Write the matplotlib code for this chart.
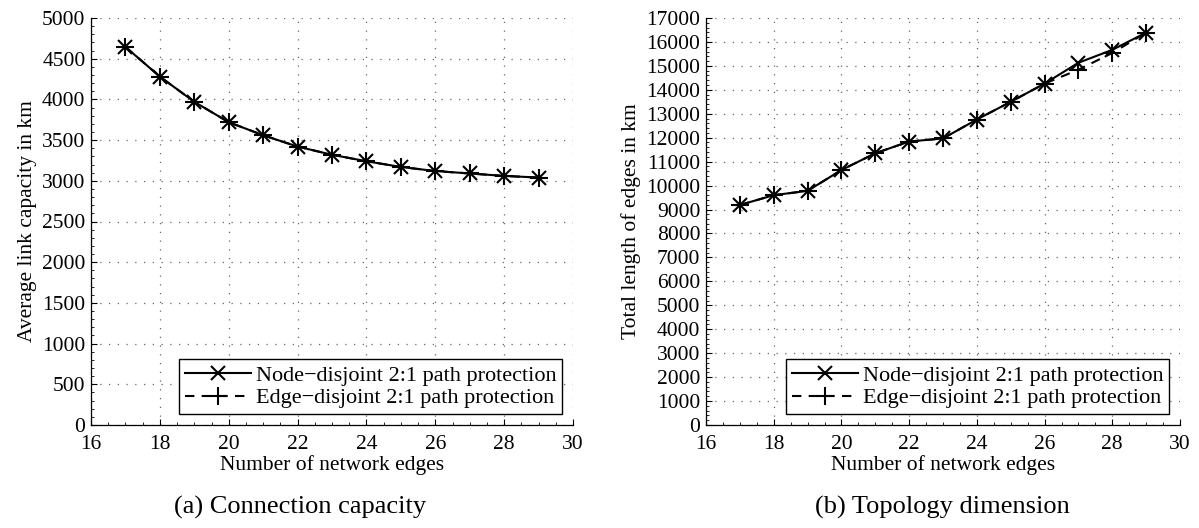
#!/usr/bin/env python3
"""
Average link capacity and total edge length vs. number of network edges
"""
import matplotlib
matplotlib.use('Agg')
import matplotlib.pyplot as plt
from matplotlib.ticker import MultipleLocator, AutoMinorLocator

plt.rcParams['font.family'] = ['Liberation Serif', 'DejaVu Serif']

# Data
edges = [17, 18, 19, 20, 21, 22, 23, 24, 25, 26, 27, 28, 29]

capacity_node = [4645, 4280, 3970, 3720, 3560, 3420, 3320, 3240, 3170, 3120, 3090, 3060, 3040]
capacity_edge = [4645, 4280, 3970, 3720, 3560, 3420, 3320, 3240, 3170, 3120, 3090, 3060, 3040]

length_node = [9190, 9600, 9780, 10650, 11350, 11840, 11970, 12760, 13500, 14260, 15130, 15670, 16390]
length_edge = [9190, 9600, 9780, 10650, 11350, 11840, 11970, 12760, 13500, 14260, 14840, 15540, 16390]

node_label = 'Node\u2212disjoint 2:1 path protection'
edge_label = 'Edge\u2212disjoint 2:1 path protection'

FS = 15.5

fig = plt.figure(figsize=(11.99, 5.28), dpi=100)
ax1 = fig.add_axes([91 / 1199, 103 / 528, 482 / 1199, 407 / 528])
ax2 = fig.add_axes([706 / 1199, 103 / 528, 474 / 1199, 407 / 528])


def style_axes(ax, ymax, ystep, ylabel):
    ax.set_xlim(16, 30)
    ax.set_ylim(0, ymax)
    ax.xaxis.set_major_locator(MultipleLocator(2))
    ax.yaxis.set_major_locator(MultipleLocator(ystep))
    ax.xaxis.set_minor_locator(AutoMinorLocator(4))
    ax.yaxis.set_minor_locator(AutoMinorLocator(5))
    ax.tick_params(which='both', direction='in', labelsize=FS, colors='black')
    ax.tick_params(which='major', length=4, width=0.8)
    ax.tick_params(which='minor', length=2, width=0.6)
    ax.tick_params(axis='x', pad=7)
    ax.tick_params(axis='y', pad=4)
    ax.spines['top'].set_visible(False)
    ax.spines['right'].set_visible(False)
    for s in ('left', 'bottom'):
        ax.spines[s].set_linewidth(0.9)
    ax.grid(True, which='major', linestyle=(0, (1, 6)), color='#666666', linewidth=0.9)
    ax.set_axisbelow(True)
    ax.set_xlabel('Number of network edges', fontsize=FS, labelpad=1)
    ax.set_ylabel(ylabel, fontsize=FS, labelpad=4)


def draw(ax, node, edge):
    ax.plot(edges, node, color='black', linewidth=1.5, marker='x',
            markersize=10, markeredgewidth=1.5, label=node_label)
    ax.plot(edges, edge, color='black', linewidth=1.5, linestyle=(0, (4.5, 3.5)),
            marker='+', markersize=13, markeredgewidth=1.5, label=edge_label)
    leg = ax.legend(loc='lower right', fontsize=FS + 0.5, fancybox=False, framealpha=1,
                    edgecolor='black', handlelength=3.0, borderaxespad=0.5,
                    borderpad=0.25, labelspacing=0.1, handletextpad=0.2,
                    bbox_to_anchor=(1.0, 0.0))
    leg.get_frame().set_linewidth(1.0)


draw(ax1, capacity_node, capacity_edge)
style_axes(ax1, 5000, 500, 'Average link capacity in km')

draw(ax2, length_node, length_edge)
style_axes(ax2, 17000, 1000, 'Total length of edges in km')

fig.text(300 / 1199, 1 - 507 / 528, '(a) Connection capacity', ha='center', va='center',
         fontsize=19)
fig.text(942 / 1199, 1 - 507 / 528, '(b) Topology dimension', ha='center', va='center',
         fontsize=19)

fig.savefig('out.png', dpi=100)
